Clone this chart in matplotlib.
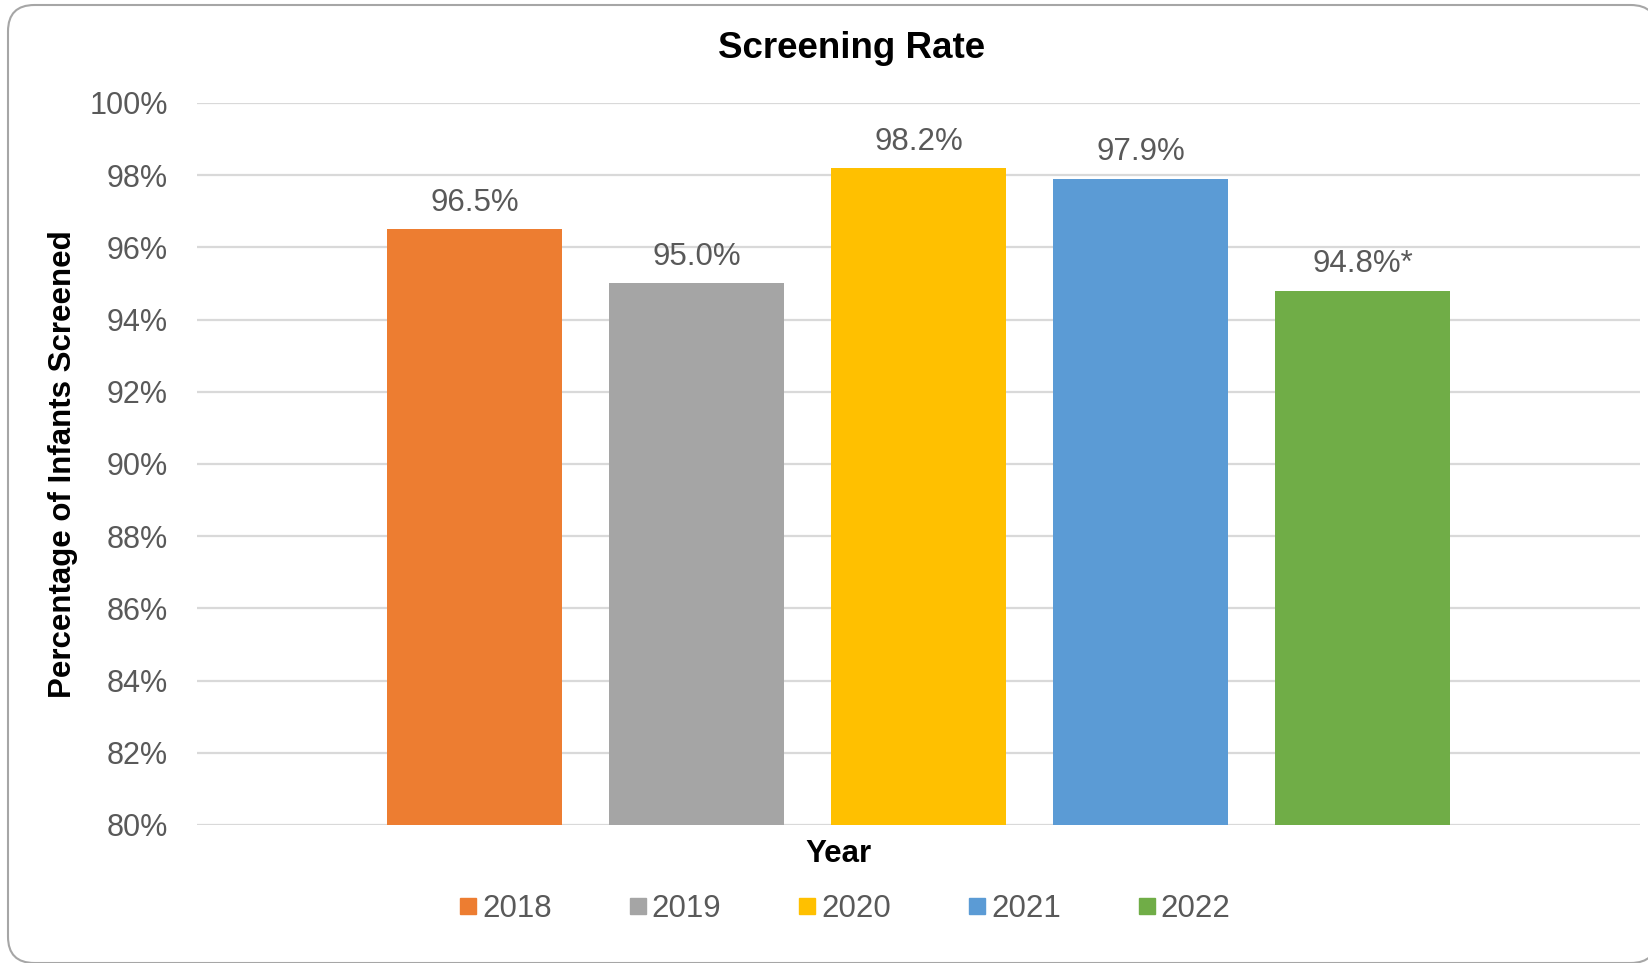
import matplotlib.pyplot as plt
from matplotlib.patches import FancyBboxPatch
from matplotlib.lines import Line2D
from matplotlib.ticker import FuncFormatter

# data
years = ['2018', '2019', '2020', '2021', '2022']
rates = [96.5, 95.0, 98.2, 97.9, 94.8]
labels = ['96.5%', '95.0%', '98.2%', '97.9%', '94.8%*']
colors = ['#ED7D31', '#A5A5A5', '#FFC000', '#5B9BD5', '#70AD47']

plt.rcParams['font.family'] = ['Liberation Sans', 'DejaVu Sans']
grey = '#595959'

fig = plt.figure(figsize=(16.49, 9.63), dpi=100)
# rounded chart border (runs off the right edge like the original)
fig.patches.append(FancyBboxPatch((8/1649, 0.0), 1.0, 1 - 5/963,
                                  boxstyle='round,pad=0,rounding_size=0.016',
                                  transform=fig.transFigure, facecolor='white',
                                  edgecolor='#a6a6a6', linewidth=1.5, zorder=-1,
                                  mutation_aspect=1649/963))

ax = fig.add_axes([197/1649, 1 - 825/963, (1640-197)/1649, (825-103)/963])
ax.set_facecolor('none')
x = range(len(years))
ax.bar(x, rates, width=0.787, color=colors, zorder=3)
ax.set_xlim(-1.25, 5.25)
ax.set_ylim(80, 100)
ax.set_yticks(range(80, 101, 2))
ax.yaxis.set_major_formatter(FuncFormatter(lambda v, p: '%d%%' % v))
ax.tick_params(axis='y', length=0, labelsize=22, labelcolor=grey, pad=21)
ax.set_xticks([])
ax.grid(axis='y', color='#d9d9d9', linewidth=1.6, zorder=0)
for s in ax.spines.values():
    s.set_visible(False)

for i, (r, lab) in enumerate(zip(rates, labels)):
    ax.annotate(lab, (i, r), xytext=(0, 19), textcoords='offset points',
                ha='center', va='center', fontsize=22.5, color=grey)

fig.text(852/1649, 1 - 48/963, 'Screening Rate', ha='center', va='center',
         fontsize=26.5, fontweight='bold', color='black')
fig.text(63/1649, 1 - 464/963, 'Percentage of Infants Screened', ha='center',
         va='center', rotation=90, fontsize=22.5, fontweight='bold')
fig.text(838/1649, 1 - 854/963, 'Year', ha='center', va='center',
         fontsize=22.5, fontweight='bold')

handles = [Line2D([], [], marker='s', linestyle='none', markersize=11,
                  color=c) for c in colors]
fig.legend(handles, years, loc='center', bbox_to_anchor=(843/1649, 1 - 909/963),
           ncol=5, frameon=False, fontsize=22.5, labelcolor=grey,
           handletextpad=0.05, columnspacing=2.35, handlelength=0.8)

fig.savefig('out.png', dpi=100)
